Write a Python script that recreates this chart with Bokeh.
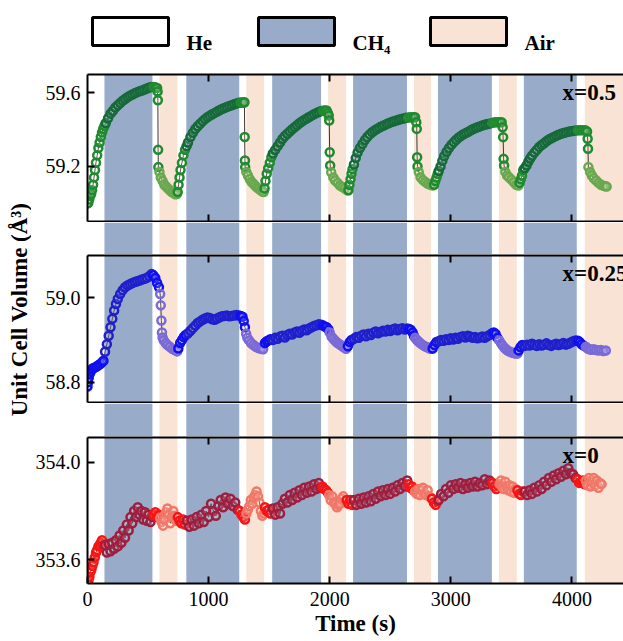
import math
from bokeh.plotting import figure
from bokeh.models import (Range1d, LinearAxis, FixedTicker, BoxAnnotation, Label,
                          PrintfTickFormatter, CustomJSTickFormatter)
from bokeh.layouts import column, row
from bokeh.embed import file_html
from bokeh.resources import INLINE
from bokeh.core.properties import value

# ---------------- gas switching periods (s) ----------------
ch4_periods = [(140, 536), (816, 1253), (1525, 1929), (2193, 2638), (2894, 3339), (3603, 4040)]
air_periods = [(594, 742), (1311, 1459), (1987, 2135), (2696, 2836), (3397, 3545), (4106, 4500)]
segment_gas = ["He", "CH4", "He", "Air"] * 6
legend_labels = ["He", "CH\u2084", "Air"]

# ---------------- x = 0.5 ----------------
x05_time = [
    [0, 6, 14, 22, 30, 38, 46, 54, 62, 70, 80, 90, 100, 110, 120, 130, 140],
    [150, 170, 190, 210, 230, 250, 270, 290, 310, 330, 350, 370, 390, 410, 430, 450, 470, 490, 510, 530],
    [545, 560, 575, 579, 581, 583, 585],
    [594, 605, 620, 635, 650, 665, 680, 695, 710, 725, 738],
    [745, 752, 760, 768, 780, 792, 805],
    [818, 830, 850, 870, 890, 910, 930, 950, 970, 990, 1010, 1030, 1050, 1070, 1090, 1110, 1130, 1150, 1170, 1190, 1210, 1230, 1250],
    [1265, 1280, 1292, 1296, 1298, 1300, 1302],
    [1311, 1325, 1340, 1355, 1370, 1385, 1400, 1415, 1430, 1445, 1455],
    [1462, 1470, 1480, 1492, 1505, 1518],
    [1530, 1550, 1570, 1590, 1610, 1630, 1650, 1670, 1690, 1710, 1730, 1750, 1770, 1790, 1810, 1830, 1850, 1870, 1890, 1910, 1930],
    [1945, 1960, 1975, 1985, 1992, 1996, 2000, 2004],
    [2012, 2030, 2045, 2065, 2085, 2105, 2125, 2145],
    [2155, 2163, 2172, 2180, 2188],
    [2200, 2215, 2230, 2250, 2270, 2290, 2310, 2330, 2350, 2370, 2390, 2410, 2430, 2450, 2470, 2490, 2510, 2530, 2550, 2570, 2590, 2610, 2630],
    [2650, 2670, 2690, 2705, 2715, 2719, 2722, 2725],
    [2735, 2750, 2770, 2790, 2810, 2830, 2850],
    [2862, 2872, 2882, 2892],
    [2900, 2915, 2930, 2945, 2965, 2985, 3005, 3025, 3045, 3065, 3085, 3105, 3125, 3145, 3165, 3185, 3205, 3225, 3245, 3265, 3285, 3305, 3325],
    [3345, 3365, 3385, 3405, 3420, 3428, 3432, 3436, 3440],
    [3450, 3465, 3480, 3500, 3520, 3540, 3558],
    [3568, 3578, 3588, 3598],
    [3610, 3625, 3640, 3655, 3670, 3690, 3710, 3730, 3750, 3770, 3790, 3810, 3830, 3850, 3870, 3890, 3910, 3930, 3950, 3970, 3990, 4010, 4030],
    [4050, 4070, 4090, 4110, 4125, 4130, 4133],
    [4136, 4150, 4165, 4180, 4200, 4220, 4240, 4260, 4275, 4287],
]
x05_volume = [
    [59.00, 59.00, 59.02, 59.04, 59.05, 59.07, 59.10, 59.14, 59.18, 59.22, 59.26, 59.30, 59.33, 59.36, 59.385, 59.405, 59.42],
    [59.435, 59.462, 59.487, 59.503, 59.52, 59.533, 59.545, 59.557, 59.567, 59.576, 59.584, 59.591, 59.598, 59.604, 59.609, 59.613, 59.618, 59.624, 59.629, 59.632],
    [59.632, 59.630, 59.627, 59.607, 59.56, 59.29, 59.196],
    [59.17, 59.14, 59.12, 59.10, 59.09, 59.08, 59.07, 59.06, 59.055, 59.048, 59.05],
    [59.06, 59.10, 59.14, 59.18, 59.22, 59.26, 59.29],
    [59.31, 59.33, 59.36, 59.383, 59.403, 59.418, 59.432, 59.445, 59.457, 59.467, 59.476, 59.484, 59.491, 59.498, 59.505, 59.512, 59.518, 59.523, 59.528, 59.533, 59.538, 59.542, 59.546],
    [59.548, 59.548, 59.548, 59.549, 59.36, 59.232, 59.196],
    [59.17, 59.15, 59.13, 59.115, 59.105, 59.095, 59.085, 59.078, 59.07, 59.063, 59.06],
    [59.08, 59.12, 59.16, 59.19, 59.22, 59.25],
    [59.27, 59.29, 59.31, 59.33, 59.35, 59.365, 59.378, 59.39, 59.402, 59.413, 59.424, 59.435, 59.444, 59.453, 59.461, 59.469, 59.476, 59.484, 59.49, 59.496, 59.502],
    [59.503, 59.504, 59.504, 59.49, 59.477, 59.45, 59.277, 59.205],
    [59.168, 59.14, 59.123, 59.11, 59.096, 59.088, 59.08, 59.07],
    [59.07, 59.10, 59.13, 59.16, 59.185],
    [59.21, 59.245, 59.275, 59.30, 59.322, 59.343, 59.36, 59.374, 59.386, 59.395, 59.403, 59.411, 59.418, 59.424, 59.43, 59.436, 59.441, 59.446, 59.45, 59.454, 59.458, 59.461, 59.464],
    [59.466, 59.467, 59.467, 59.467, 59.44, 59.404, 59.25, 59.20],
    [59.17, 59.141, 59.125, 59.115, 59.105, 59.10, 59.096],
    [59.10, 59.12, 59.14, 59.16],
    [59.175, 59.20, 59.23, 59.255, 59.28, 59.30, 59.318, 59.332, 59.345, 59.357, 59.366, 59.375, 59.382, 59.388, 59.396, 59.403, 59.409, 59.414, 59.419, 59.424, 59.428, 59.431, 59.434],
    [59.437, 59.44, 59.44, 59.44, 59.44, 59.413, 59.359, 59.241, 59.205],
    [59.17, 59.15, 59.141, 59.128, 59.114, 59.10, 59.096],
    [59.11, 59.13, 59.15, 59.18],
    [59.19, 59.205, 59.225, 59.243, 59.258, 59.275, 59.29, 59.305, 59.316, 59.326, 59.337, 59.346, 59.353, 59.36, 59.366, 59.372, 59.377, 59.382, 59.385, 59.388, 59.391, 59.393, 59.395],
    [59.396, 59.397, 59.397, 59.397, 59.39, 59.35, 59.296],
    [59.196, 59.17, 59.15, 59.135, 59.123, 59.11, 59.10, 59.095, 59.092, 59.09],
]

# ---------------- x = 0.25 ----------------
x025_time = [
    [0, 5, 10, 18, 26, 34, 45, 60, 75, 90, 105, 120, 132],
    [145, 160, 175, 190, 205, 220, 235, 250, 270, 290, 310, 330, 350, 370, 390, 410, 430, 450, 470, 490, 510, 530],
    [545, 560, 575, 590],
    [600, 605, 610, 615, 620, 630, 645, 660, 680, 700, 720, 740],
    [750, 765, 780, 795, 810],
    [830, 850, 870, 890, 910, 930, 950, 970, 990, 1010, 1030, 1050, 1070, 1090, 1110, 1130, 1150, 1170, 1190, 1210, 1230, 1250],
    [1265, 1280, 1290, 1300],
    [1310, 1320, 1335, 1350, 1370, 1390, 1410, 1430, 1450],
    [1465, 1480, 1495, 1510],
    [1530, 1550, 1570, 1590, 1610, 1630, 1650, 1670, 1690, 1710, 1730, 1750, 1770, 1790, 1810, 1830, 1850, 1870, 1890, 1910, 1930],
    [1945, 1960, 1975, 1990],
    [2000, 2015, 2030, 2045, 2060, 2075, 2090, 2105, 2120, 2135],
    [2150, 2165, 2180],
    [2200, 2220, 2240, 2260, 2280, 2300, 2320, 2340, 2360, 2380, 2400, 2420, 2440, 2460, 2480, 2500, 2520, 2540, 2560, 2580, 2600, 2620, 2640],
    [2655, 2670, 2685, 2695],
    [2705, 2720, 2735, 2750, 2765, 2780, 2795, 2810, 2825, 2840],
    [2850, 2865, 2880],
    [2900, 2920, 2940, 2960, 2980, 3000, 3020, 3040, 3060, 3080, 3100, 3120, 3140, 3160, 3180, 3200, 3220, 3240, 3260, 3280, 3300, 3320, 3340],
    [3355, 3370, 3385],
    [3400, 3415, 3430, 3445, 3460, 3475, 3490, 3505, 3520, 3535, 3550],
    [3560, 3575, 3590],
    [3610, 3630, 3650, 3670, 3690, 3710, 3730, 3750, 3770, 3790, 3810, 3830, 3850, 3870, 3890, 3910, 3930, 3950, 3970, 3990, 4010, 4030],
    [4050, 4065, 4080, 4100],
    [4115, 4130, 4145, 4160, 4180, 4200, 4220, 4240, 4260, 4280],
]
x025_volume = [
    [58.79, 58.80, 58.81, 58.82, 58.825, 58.83, 58.833, 58.835, 58.837, 58.84, 58.843, 58.847, 58.851],
    [58.872, 58.89, 58.91, 58.93, 58.95, 58.97, 58.985, 58.997, 59.009, 59.018, 59.025, 59.029, 59.032, 59.035, 59.037, 59.039, 59.041, 59.043, 59.045, 59.047, 59.051, 59.056],
    [59.053, 59.047, 59.035, 59.025],
    [59.009, 58.982, 58.946, 58.918, 58.906, 58.899, 58.893, 58.888, 58.884, 58.879, 58.876, 58.873],
    [58.88, 58.893, 58.90, 58.907, 58.912],
    [58.916, 58.922, 58.928, 58.934, 58.94, 58.944, 58.948, 58.951, 58.953, 58.952, 58.949, 58.948, 58.951, 58.954, 58.956, 58.957, 58.958, 58.956, 58.957, 58.958, 58.959, 58.958],
    [58.957, 58.955, 58.945, 58.93],
    [58.915, 58.905, 58.899, 58.893, 58.888, 58.884, 58.881, 58.879, 58.878],
    [58.893, 58.897, 58.899, 58.902],
    [58.900, 58.905, 58.903, 58.908, 58.91, 58.906, 58.912, 58.915, 58.913, 58.918, 58.92, 58.917, 58.922, 58.925, 58.923, 58.927, 58.93, 58.933, 58.935, 58.937, 58.936],
    [58.934, 58.932, 58.93, 58.925],
    [58.918, 58.908, 58.903, 58.898, 58.894, 58.891, 58.888, 58.885, 58.882, 58.879],
    [58.885, 58.895, 58.90],
    [58.903, 58.907, 58.905, 58.91, 58.913, 58.909, 58.915, 58.912, 58.917, 58.92, 58.916, 58.919, 58.922, 58.92, 58.924, 58.921, 58.925, 58.927, 58.923, 58.926, 58.928, 58.925, 58.927],
    [58.926, 58.924, 58.918, 58.91],
    [58.905, 58.90, 58.896, 58.892, 58.889, 58.886, 58.884, 58.882, 58.88, 58.879],
    [58.88, 58.888, 58.895],
    [58.897, 58.90, 58.898, 58.902, 58.90, 58.904, 58.901, 58.905, 58.903, 58.907, 58.909, 58.906, 58.91, 58.908, 58.905, 58.907, 58.904, 58.906, 58.908, 58.905, 58.909, 58.912, 58.916],
    [58.918, 58.914, 58.905],
    [58.899, 58.892, 58.886, 58.881, 58.877, 58.874, 58.872, 58.87, 58.869, 58.868, 58.868],
    [58.875, 58.883, 58.888],
    [58.886, 58.889, 58.887, 58.891, 58.888, 58.886, 58.89, 58.887, 58.889, 58.892, 58.888, 58.886, 58.889, 58.891, 58.888, 58.89, 58.893, 58.889, 58.891, 58.894, 58.897, 58.899],
    [58.898, 58.895, 58.89, 58.886],
    [58.884, 58.88, 58.878, 58.877, 58.878, 58.876, 58.875, 58.876, 58.874, 58.875],
]

# ---------------- x = 0 ----------------
x0_time = [
    [0, 8, 16, 24, 32, 40, 50, 60, 70, 80, 90, 100, 110, 120, 130],
    [145, 160, 175, 190, 205, 220, 235, 250, 265, 280, 295, 310, 325, 340, 355, 370, 385, 400, 415, 430, 445, 460, 475, 490, 505, 520, 535],
    [545, 560, 575, 590],
    [600, 612, 624, 636, 648, 660, 672, 684, 696, 708, 720, 732],
    [745, 760, 775, 790, 805],
    [820, 840, 860, 880, 900, 920, 940, 960, 980, 1000, 1020, 1040, 1060, 1080, 1100, 1120, 1140, 1160, 1180, 1200, 1220, 1240],
    [1258, 1272, 1286, 1300],
    [1312, 1324, 1336, 1348, 1360, 1372, 1384, 1396, 1408, 1420, 1432, 1444, 1456],
    [1465, 1480, 1495, 1510],
    [1530, 1550, 1570, 1590, 1610, 1630, 1650, 1670, 1690, 1710, 1730, 1750, 1770, 1790, 1810, 1830, 1850, 1870, 1890, 1910, 1925],
    [1940, 1955, 1970, 1985],
    [1995, 2008, 2021, 2034, 2047, 2060, 2073, 2086, 2099, 2112, 2125],
    [2140, 2155, 2170, 2185],
    [2200, 2220, 2240, 2260, 2280, 2300, 2320, 2340, 2360, 2380, 2400, 2420, 2440, 2460, 2480, 2500, 2520, 2540, 2560, 2580, 2600, 2620, 2640],
    [2650, 2665, 2680, 2692],
    [2705, 2718, 2731, 2744, 2757, 2770, 2783, 2796, 2809, 2822, 2834],
    [2845, 2860, 2875, 2890],
    [2900, 2920, 2940, 2960, 2980, 3000, 3020, 3040, 3060, 3080, 3100, 3120, 3140, 3160, 3180, 3200, 3220, 3240, 3260, 3280, 3300, 3320, 3335],
    [3345, 3360, 3375, 3390],
    [3402, 3414, 3426, 3438, 3450, 3462, 3474, 3486, 3498, 3510, 3522, 3534],
    [3550, 3565, 3580, 3595],
    [3610, 3630, 3650, 3670, 3690, 3710, 3730, 3750, 3770, 3790, 3810, 3830, 3850, 3870, 3890, 3910, 3930, 3950, 3970, 3990, 4010, 4030],
    [4045, 4060, 4075, 4090, 4102],
    [4115, 4128, 4141, 4154, 4167, 4180, 4193, 4206, 4219, 4232, 4245],
]
x0_volume = [
    [353.51, 353.515, 353.53, 353.55, 353.56, 353.575, 353.59, 353.61, 353.63, 353.64, 353.655, 353.66, 353.67, 353.68, 353.66],
    [353.66, 353.63, 353.665, 353.635, 353.67, 353.645, 353.68, 353.655, 353.70, 353.67, 353.72, 353.69, 353.745, 353.72, 353.775, 353.75, 353.80, 353.775, 353.815, 353.785, 353.80, 353.765, 353.795, 353.76, 353.785, 353.755, 353.775],
    [353.785, 353.795, 353.775, 353.785],
    [353.77, 353.755, 353.74, 353.765, 353.795, 353.81, 353.785, 353.75, 353.775, 353.80, 353.78, 353.76],
    [353.775, 353.76, 353.75, 353.765, 353.745],
    [353.76, 353.735, 353.765, 353.74, 353.775, 353.75, 353.785, 353.755, 353.80, 353.775, 353.83, 353.80, 353.78, 353.82, 353.845, 353.815, 353.855, 353.83, 353.85, 353.82, 353.835, 353.805],
    [353.80, 353.785, 353.775, 353.765],
    [353.79, 353.805, 353.82, 353.845, 353.83, 353.855, 353.865, 353.88, 353.86, 353.835, 353.80, 353.78, 353.79],
    [353.815, 353.80, 353.805, 353.79],
    [353.81, 353.785, 353.815, 353.79, 353.83, 353.85, 353.835, 353.865, 353.845, 353.875, 353.855, 353.885, 353.865, 353.895, 353.875, 353.90, 353.88, 353.91, 353.89, 353.915, 353.895],
    [353.90, 353.89, 353.885, 353.875],
    [353.865, 353.845, 353.86, 353.835, 353.83, 353.815, 353.825, 353.83, 353.85, 353.86, 353.84],
    [353.845, 353.83, 353.845, 353.825],
    [353.845, 353.825, 353.85, 353.83, 353.855, 353.835, 353.86, 353.84, 353.87, 353.85, 353.88, 353.86, 353.885, 353.865, 353.89, 353.87, 353.895, 353.88, 353.905, 353.89, 353.915, 353.90, 353.925],
    [353.91, 353.895, 353.90, 353.885],
    [353.88, 353.87, 353.89, 353.865, 353.885, 353.895, 353.87, 353.865, 353.885, 353.86, 353.855],
    [353.85, 353.835, 353.825, 353.84],
    [353.845, 353.87, 353.86, 353.89, 353.875, 353.905, 353.89, 353.91, 353.895, 353.915, 353.89, 353.91, 353.895, 353.915, 353.90, 353.92, 353.90, 353.915, 353.905, 353.93, 353.91, 353.925, 353.915],
    [353.915, 353.90, 353.89, 353.905],
    [353.91, 353.925, 353.90, 353.89, 353.92, 353.90, 353.885, 353.905, 353.88, 353.90, 353.875, 353.89],
    [353.885, 353.87, 353.865, 353.88],
    [353.88, 353.865, 353.885, 353.87, 353.895, 353.88, 353.905, 353.89, 353.92, 353.905, 353.935, 353.92, 353.945, 353.93, 353.955, 353.94, 353.965, 353.95, 353.975, 353.955, 353.95, 353.935],
    [353.93, 353.915, 353.92, 353.925, 353.91],
    [353.925, 353.905, 353.935, 353.90, 353.92, 353.935, 353.905, 353.925, 353.895, 353.915, 353.91],
]

panel_labels = ["x=0.5", "x=0.25", "x=0"]
y_limits = [(58.9, 59.7), (58.752, 59.100), (353.503, 354.101)]
y_ticks = [[59.2, 59.6], [58.8, 59.0], [353.6, 354.0]]
x_ticks = [0, 1000, 2000, 3000, 4000]
x_limits = (0, 4426)
y_title = "Unit Cell Volume (\u00c5\u00b3)"

# ---------------- styling / layout ----------------
FONT = "Liberation Serif"
CH4_FILL = "#98abc9"
AIR_FILL = "#f9e3d4"
palettes = [
    {"He": "#1f8a2e", "CH4": "#166a39", "Air": "#6aa84f"},
    {"He": "#0f0ff2", "CH4": "#1f1fcc", "Air": "#7a6ad8"},
    {"He": "#f71414", "CH4": "#9c1f40", "Air": "#f07868"},
]
TOTAL_H = 641
LABEL_W = 31          # column holding the rotated y title
W = 623 - LABEL_W     # width of every stacked figure
LEFT = 56             # left border -> frame starts at x = 87
FRAME_X0 = LABEL_W + LEFT
x_range = Range1d(*x_limits)
blank = CustomJSTickFormatter(code="return ''")


def add_bands(p):
    for a, b in ch4_periods:
        p.add_layout(BoxAnnotation(left=a, right=b, fill_color=CH4_FILL, fill_alpha=1.0,
                                   line_color=None, level="underlay"))
    for a, b in air_periods:
        p.add_layout(BoxAnnotation(left=a, right=b, fill_color=AIR_FILL, fill_alpha=1.0,
                                   line_color=None, level="underlay"))


def gap_fig(h):
    g = figure(width=W, height=h, x_range=x_range, y_range=Range1d(0, 1),
               x_axis_type=None, y_axis_type=None, toolbar_location=None,
               output_backend="svg", min_border_left=LEFT, min_border_right=0,
               min_border_top=0, min_border_bottom=0, outline_line_color=None)
    add_bands(g)
    return g


def tick_axis(ticks):
    a = LinearAxis(ticker=FixedTicker(ticks=ticks))
    a.major_tick_in = 7
    a.major_tick_out = 0
    a.minor_tick_line_color = None
    a.major_tick_line_width = 2
    a.axis_line_width = 2
    return a


def panel(i, times, vols, frame_h, bottom):
    h = frame_h + 1 + (58 if bottom else 1)
    p = figure(width=W, height=h, x_range=x_range, y_range=Range1d(*y_limits[i]),
               x_axis_type=None, y_axis_type=None, toolbar_location=None,
               output_backend="svg", min_border_left=LEFT, min_border_right=0,
               min_border_top=1, min_border_bottom=(58 if bottom else 1),
               outline_line_color=None)
    add_bands(p)
    ya = tick_axis(y_ticks[i])
    ya.formatter = PrintfTickFormatter(format="%.1f")
    ya.major_label_standoff = 7
    ya.major_label_text_font = FONT
    ya.major_label_text_font_size = "20px"
    ya.major_label_text_color = "black"
    p.add_layout(ya, "left")

    ta = tick_axis(x_ticks[1:])
    ta.formatter = blank
    ta.major_label_text_font_size = "1px"
    ta.major_label_standoff = 0
    p.add_layout(ta, "above")

    ba = tick_axis(x_ticks if bottom else x_ticks[1:])
    if bottom:
        ba.major_label_text_font = FONT
        ba.major_label_text_font_size = "20px"
        ba.major_label_text_color = "black"
        ba.major_label_standoff = 8
        ba.axis_label = "Time (s)"
        ba.axis_label_text_font = FONT
        ba.axis_label_text_font_size = "23px"
        ba.axis_label_text_font_style = "bold"
        ba.axis_label_text_color = "black"
        ba.axis_label_standoff = 2
    else:
        ba.formatter = blank
        ba.major_label_text_font_size = "1px"
        ba.major_label_standoff = 0
    p.add_layout(ba, "below")

    all_t = [t for seg in times for t in seg]
    all_v = [v for seg in vols for v in seg]
    p.line(all_t, all_v, line_color="#3f3430", line_width=1)
    for gas, t, v in zip(segment_gas, times, vols):
        p.scatter(t, v, marker="circle", size=8, line_color=palettes[i][gas], line_width=2.5,
                  fill_color="white", fill_alpha=0.15)

    p.add_layout(Label(x=3923, y=frame_h - 18, x_units="data", y_units="screen",
                       text=panel_labels[i], text_font=FONT, text_font_size="23px",
                       text_font_style="bold", text_baseline="middle", text_align="left",
                       text_color="black"))
    return p


# ---------------- legend row (page-pixel coordinates; frame aligned with panels) ----------------
LEG_H = 73
leg = figure(width=W, height=LEG_H, x_range=Range1d(FRAME_X0, 623), y_range=Range1d(0, LEG_H),
             x_axis_type=None, y_axis_type=None, toolbar_location=None, output_backend="svg",
             min_border_left=LEFT, min_border_right=0, min_border_top=0, min_border_bottom=0,
             outline_line_color=None)
box_left = [92, 258, 430]
box_w = 76
leg.quad(left=box_left, right=[b + box_w for b in box_left], bottom=[28] * 3, top=[56] * 3,
         fill_color=["white", CH4_FILL, AIR_FILL], line_color="black", line_width=3)
leg.text(x=[b + box_w + 18 for b in box_left], y=[31] * 3, text=legend_labels,
         text_font=value(FONT), text_font_size="21px", text_font_style="bold",
         text_baseline="alphabetic", text_align="left", text_color="black")

# ---------------- y title column ----------------
ylab = figure(width=LABEL_W, height=TOTAL_H, x_range=Range1d(0, LABEL_W), y_range=Range1d(0, TOTAL_H),
              x_axis_type=None, y_axis_type=None, toolbar_location=None, output_backend="svg",
              min_border=0, outline_line_color=None)
ylab.text(x=[19], y=[TOTAL_H - 309], text=[y_title], angle=math.pi / 2,
          text_font=value(FONT), text_font_size="23px", text_font_style="bold",
          text_align="center", text_baseline="middle", text_color="black")

p_top = panel(0, x05_time, x05_volume, 147, False)
p_mid = panel(1, x025_time, x025_volume, 147, False)
p_bot = panel(2, x0_time, x0_volume, 146, True)

stack = column(leg, p_top, gap_fig(32), p_mid, gap_fig(33), p_bot, spacing=0)
layout = row(ylab, stack, spacing=0)

open("out.html", "w").write(file_html(layout, INLINE))
